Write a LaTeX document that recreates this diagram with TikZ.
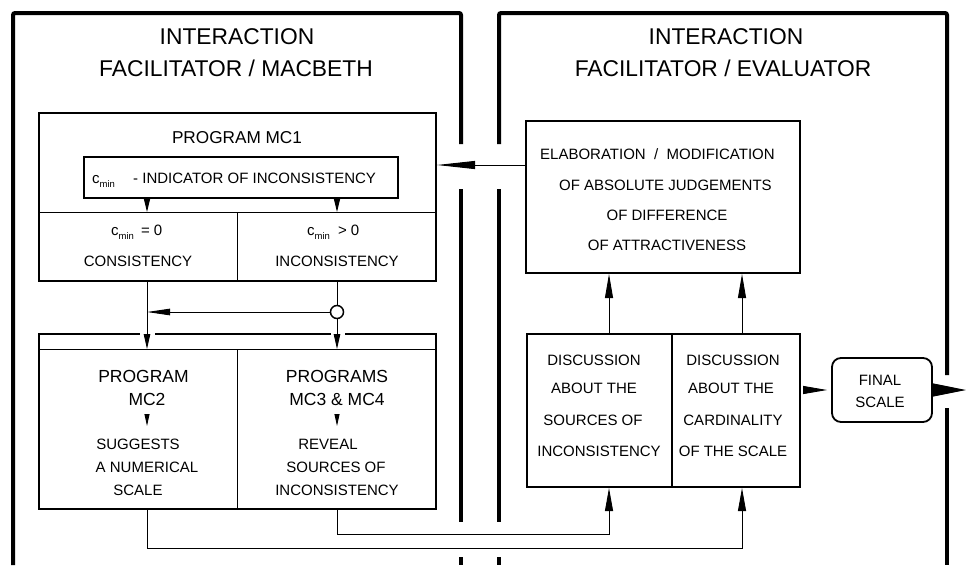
\documentclass[tikz,border=0pt]{standalone}
\usepackage{fontspec}
\setmainfont{Liberation Sans}
\usetikzlibrary{arrows.meta}
\newcommand\cmin{c\raisebox{-4.5pt}{\fontsize{9.5}{9.5}\selectfont min}}
\begin{document}
\begin{tikzpicture}[x=1pt,y=-1pt,
  frame/.style={line width=4pt, rounded corners=2pt},
  box/.style={draw, line width=2pt, inner sep=0pt},
  thinl/.style={line width=0.9pt},
  t/.style={anchor=base, inner sep=0pt, font=\fontsize{15}{18}\selectfont},
  tw/.style={t, anchor=base west},
  tb/.style={t, font=\fontsize{17.5}{20}\selectfont},
  tt/.style={t, font=\fontsize{22.8}{26}\selectfont}]
\useasboundingbox (0,0) rectangle (966,565);
\fill[white] (0,0) rectangle (966,565);

% frames
\draw[frame] (13,565) -- (13,13) -- (461,13) -- (461,144);
\draw[frame] (461,189) -- (461,522);
\draw[frame] (461,557) -- (461,565);
\draw[frame] (499,144) -- (499,13) -- (947,13) -- (947,375);
\draw[frame] (499,189) -- (499,522);
\draw[frame] (499,557) -- (499,565);
\draw[frame] (947,408) -- (947,565);

% titles
\node[tt] (tl1) at (237,44.7) {INTERACTION};
\node[tt] (tl2) at (236,76) {FACILITATOR / MACBETH};
\node[tt] (tr1) at (726,44.7) {INTERACTION};
\node[tt] (tr2) at (723,76) {FACILITATOR / EVALUATOR};

% program MC1
\node[box, minimum width=397pt, minimum height=168pt] (mc1) at (237.5,197) {};
\node[draw, line width=1.4pt, minimum width=314pt, minimum height=41pt, inner sep=0pt] (ind) at (241,177.5) {};
\node[t, font=\fontsize{17.2}{20}\selectfont] (mc1t) at (237,143) {PROGRAM MC1};
\node[tw] (indc) at (92,183) {\cmin};
\node[tw] (indt) at (133,183) {- INDICATOR OF INCONSISTENCY};
\draw[thinl] (39,212) -- (436,212) (237,212) -- (237,281);
\coordinate (dL) at (147,212);
\coordinate (dR) at (337,212);
\draw[thinl, -{Triangle[length=13pt,width=6pt]}] (ind.south -| dL) -- (dL);
\draw[thinl, -{Triangle[length=13pt,width=6pt]}] (ind.south -| dR) -- (dR);
\node[tw] (c0) at (111,235) {\cmin\hspace{7pt}= 0};
\node[t] (cons) at (138,266.7) {CONSISTENCY};
\node[tw] (c1) at (307,235) {\cmin\hspace{8pt}> 0};
\node[t] (incons) at (337,266.7) {INCONSISTENCY};

% lower box
\node[box, minimum width=397pt, minimum height=175pt] (low) at (237.5,421.5) {};
\draw[thinl] (39,349) -- (436,349) (237,349) -- (237,509);
\coordinate (inL) at (147,349);
\coordinate (inR) at (337,349);
\draw[white, line width=3.2pt] (140,334) -- (155,334) (331,334) -- (345,334);
\node[draw, circle, line width=1.5pt, minimum size=13pt, inner sep=0pt] (j) at (337,312) {};
\draw[thinl, -{Triangle[length=15pt,width=6.5pt]}] (mc1.south -| inL) -- (inL);
\draw[thinl] (mc1.south -| inR) -- (j.north);
\draw[thinl, -{Triangle[length=15pt,width=6.5pt]}] (j.south) -- (inR);
\draw[thinl, -{Triangle[length=23pt,width=6.5pt]}] (j.west) -- (j.west -| inL);

\node[tb] (p2a) at (143.5,382.7) {PROGRAM};
\node[tb] (p2b) at (147,405) {MC2};
\coordinate (s2a) at (147,414);
\coordinate (s2b) at (147,426);
\draw[thinl, -{Triangle[length=12pt,width=5pt]}] (s2a) -- (s2b);
\node[t] (s2c) at (138,449.3) {SUGGESTS};
\node[t] (s2d) at (147,472.7) {A NUMERICAL};
\node[t] (s2e) at (138,495.5) {SCALE};

\node[tb] (p3a) at (337,382.7) {PROGRAMS};
\node[tb] (p3b) at (337,405) {MC3 \& MC4};
\coordinate (s3a) at (337,414);
\coordinate (s3b) at (337,426);
\draw[thinl, -{Triangle[length=12pt,width=5pt]}] (s3a) -- (s3b);
\node[t] (r1) at (328,449.3) {REVEAL};
\node[t] (r2) at (336,472.7) {SOURCES OF};
\node[t] (r3) at (337,495.5) {INCONSISTENCY};

% elaboration
\node[box, minimum width=274pt, minimum height=152pt] (elab) at (663,197) {};
\node[tw] (e1) at (540,159.3) {ELABORATION \ / \ MODIFICATION};
\node[tw] (e2) at (559,190) {OF ABSOLUTE JUDGEMENTS};
\node[t] (e3) at (667,220.7) {OF DIFFERENCE};
\node[t] (e4) at (667,250.7) {OF ATTRACTIVENESS};

% discussion
\node[box, minimum width=273pt, minimum height=153pt] (disc) at (663.5,410.5) {};
\coordinate (dv) at (672,0);
\draw[line width=1.8pt] (disc.north -| dv) -- (disc.south -| dv);
\node[t] (d1) at (594,365.7) {DISCUSSION};
\node[t] (d2) at (594,393.7) {ABOUT THE};
\node[t] (d3) at (593,425.7) {SOURCES OF};
\node[t] (d4) at (599,456.7) {INCONSISTENCY};
\node[t] (d5) at (733,365.7) {DISCUSSION};
\node[t] (d6) at (731,393.7) {ABOUT THE};
\node[t] (d7) at (733,425.7) {CARDINALITY};
\node[t] (d8) at (733,456.7) {OF THE SCALE};

% final scale
\node[draw, line width=1.8pt, rounded corners=9pt, minimum width=100pt, minimum height=64pt, inner sep=0pt] (fin) at (882,390) {};
\node[t] (f1) at (880,385) {FINAL};
\node[t] (f2) at (880,407.3) {SCALE};

% connectors
\coordinate (aY) at (0,165);
\draw[thinl, -{Triangle[length=38pt,width=8pt]}] (elab.west |- aY) -- (mc1.east |- aY);
\coordinate (cL) at (609,0);
\coordinate (cR) at (742,0);
\draw[thinl, -{Triangle[length=24pt,width=8pt]}] (disc.north -| cL) -- (elab.south -| cL);
\draw[thinl, -{Triangle[length=24pt,width=8pt]}] (disc.north -| cR) -- (elab.south -| cR);
\draw[thinl, -{Triangle[length=23pt,width=8pt]}] (low.south -| inR) -- ++(0,24) -| (disc.south -| cL);
\draw[thinl, -{Triangle[length=23pt,width=8pt]}] (low.south -| inL) -- ++(0,38) -| (disc.south -| cR);
\draw[thinl, -{Triangle[length=24pt,width=8pt]}, shorten <=4pt, shorten >=4pt] (disc.east |- fin) -- (fin.west);
\coordinate (out) at (966,391);
\draw[thinl, -{Triangle[length=33pt,width=13pt]}] (fin.east) -- (fin.east -| out);
\end{tikzpicture}
\end{document}
